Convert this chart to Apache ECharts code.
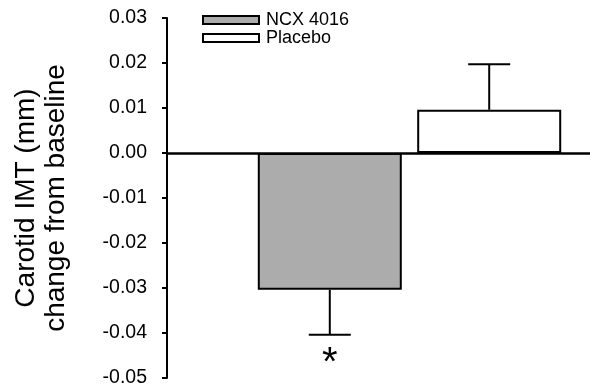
<!DOCTYPE html>
<html>
<head>
<meta charset="utf-8">
<script src="https://cdn.jsdelivr.net/npm/echarts@6/dist/echarts.min.js"></script>
<style>
  html, body { margin: 0; padding: 0; background: #fff; }
  #chart { width: 590px; height: 387px; }
</style>
</head>
<body>
<div id="chart"></div>
<script>
// data
const groups = ['NCX 4016', 'Placebo'];
const means = [-0.0304, 0.0096];
const errors = [0.0100, 0.0101];
const marks = ['*', ''];          // significance marker under each bar
const yMin = -0.05;
const yMax = 0.03;
const yStep = 0.01;

const FONT = 'Liberation Sans, Arial, sans-serif';
const BAR_W = 144;
const BAR_GAP = '10.7%';
const fills = ['#acacac', '#ffffff'];

const chart = echarts.init(document.getElementById('chart'));

// error bars (one-sided, away from zero) + marker text
const errData = groups.map((g, i) => [i, means[i], errors[i]]);

const renderErr = (params, api) => {
  const idx = api.value(0);
  const mean = api.value(1);
  const err = api.value(2);
  const end = mean < 0 ? mean - err : mean + err;
  const layout = api.barLayout({ barWidth: BAR_W, barGap: BAR_GAP, count: groups.length });
  const off = layout[idx].offsetCenter;
  const p0 = api.coord([0, mean]);
  const p1 = api.coord([0, end]);
  const x = p0[0] + off;
  const capHalf = 21;
  const children = [
    { type: 'line', shape: { x1: x, y1: p0[1], x2: x, y2: p1[1] }, style: { stroke: '#000', lineWidth: 2 } },
    { type: 'line', shape: { x1: x - capHalf, y1: p1[1], x2: x + capHalf, y2: p1[1] }, style: { stroke: '#000', lineWidth: 2 } }
  ];
  if (marks[idx]) {
    children.push({
      type: 'text',
      style: {
        text: marks[idx], x: x, y: p1[1] + 29,
        fontSize: 40, fontFamily: FONT, fill: '#000',
        align: 'center', verticalAlign: 'middle'
      }
    });
  }
  return { type: 'group', children: children };
};

const option = {
  animation: false,
  grid: { left: 167, top: 18, width: 485, bottom: 9, containLabel: false, outerBoundsMode: 'none' },
  legend: {
    orient: 'vertical',
    left: 197,
    top: 6,
    itemWidth: 56,
    itemHeight: 8,
    itemGap: 0,
    icon: 'rect',
    data: groups,
    textStyle: { fontSize: 18, fontFamily: FONT, color: '#000', padding: [0, 0, 0, 2] }
  },
  xAxis: {
    type: 'category',
    data: [''],
    axisLine: { onZero: true, lineStyle: { color: '#000', width: 2.5 } },
    axisTick: { show: false },
    axisLabel: { show: false },
    splitLine: { show: false }
  },
  yAxis: {
    type: 'value',
    min: yMin,
    max: yMax,
    interval: yStep,
    name: 'Carotid IMT (mm)\nchange from baseline',
    nameLocation: 'middle',
    nameRotate: 90,
    nameGap: 96,
    nameTextStyle: { fontSize: 28, fontFamily: FONT, color: '#000', lineHeight: 30 },
    axisLine: { show: true, lineStyle: { color: '#000', width: 2 } },
    axisTick: { show: true, inside: false, length: 5, lineStyle: { color: '#000', width: 2 } },
    axisLabel: {
      margin: 20,
      fontSize: 19.5,
      fontFamily: FONT,
      color: '#000',
      formatter: v => v.toFixed(2)
    },
    splitLine: { show: false }
  },
  series: [
    {
      name: groups[0],
      type: 'bar',
      data: [means[0]],
      barWidth: BAR_W,
      barGap: BAR_GAP,
      itemStyle: { color: fills[0], borderColor: '#000', borderWidth: 2 }
    },
    {
      name: groups[1],
      type: 'bar',
      data: [means[1]],
      barWidth: BAR_W,
      barGap: BAR_GAP,
      itemStyle: { color: fills[1], borderColor: '#000', borderWidth: 2 }
    },
    {
      type: 'custom',
      renderItem: renderErr,
      data: errData,
      encode: { x: 0, y: 1 },
      silent: true,
      z: 5
    }
  ]
};

chart.setOption(option);
</script>
</body>
</html>
